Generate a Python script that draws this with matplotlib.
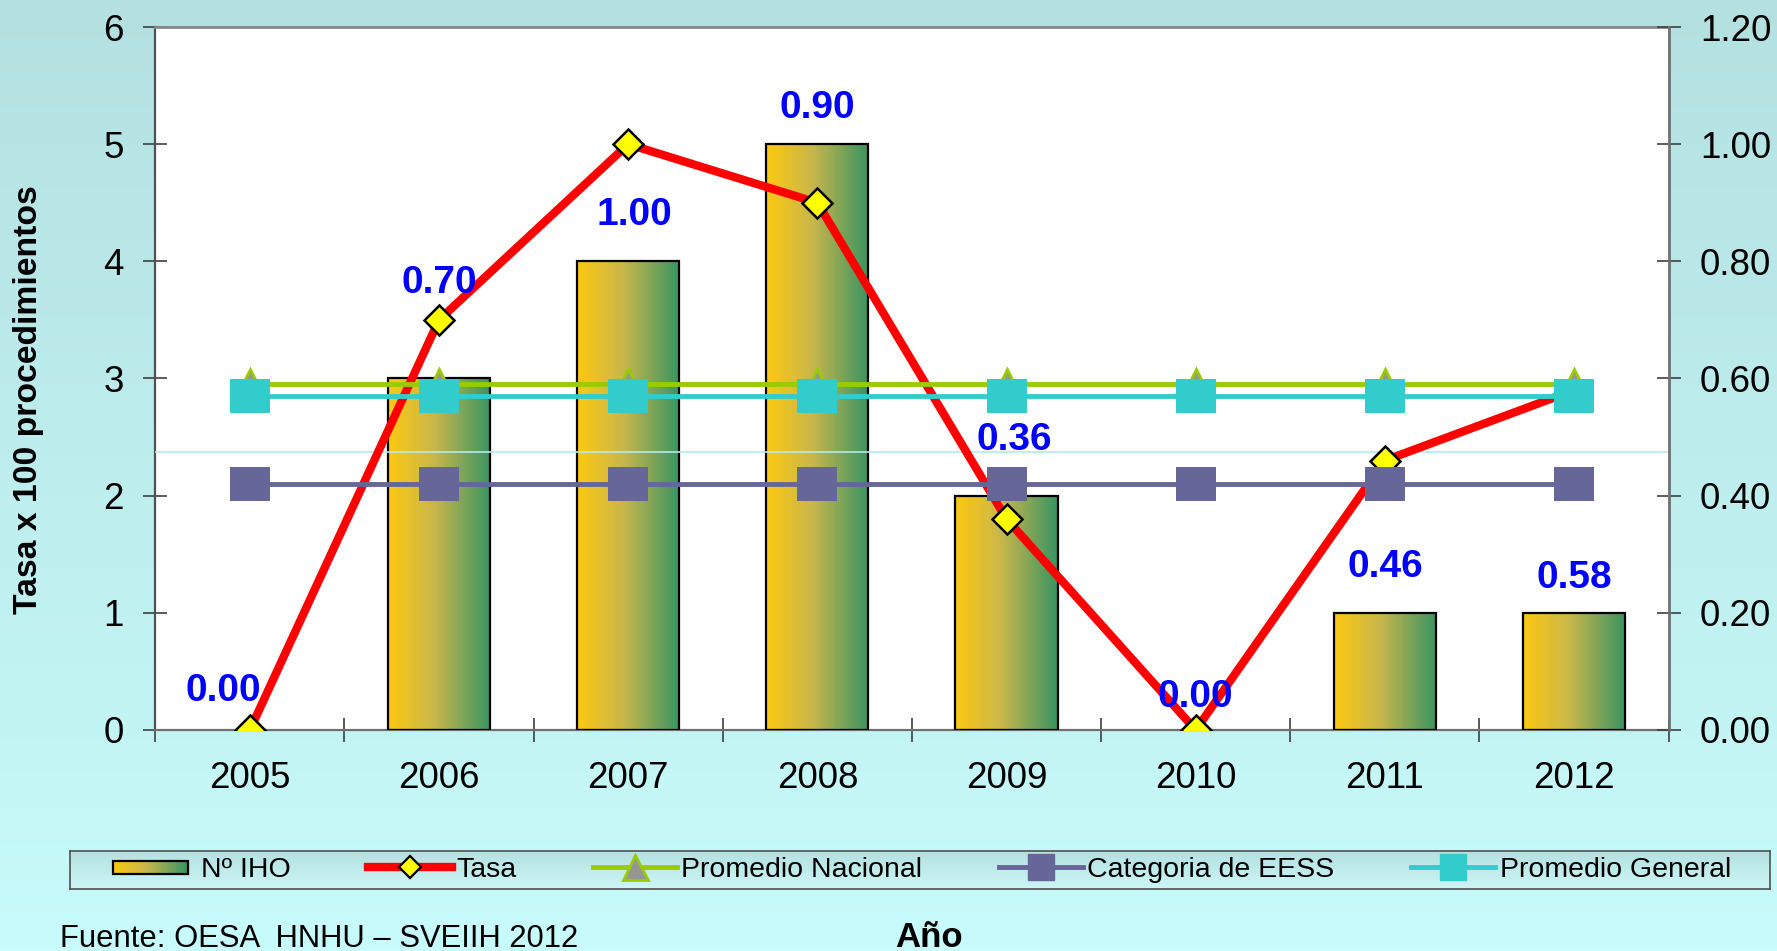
## Import Libraries
import numpy as np
import matplotlib.pyplot as plt
from matplotlib.lines import Line2D
from matplotlib.patches import Rectangle
from matplotlib.colors import LinearSegmentedColormap
from matplotlib.legend_handler import HandlerPatch
from matplotlib.ticker import FormatStrFormatter

plt.rcParams['font.family'] = ['Liberation Sans', 'DejaVu Sans']


## Data
years = ['2005', '2006', '2007', '2008', '2009', '2010', '2011', '2012']
n_iho = [0, 3, 4, 5, 2, 0, 1, 1]
tasa = [0.00, 0.70, 1.00, 0.90, 0.36, 0.00, 0.46, 0.58]
promedio_nacional = [0.59, 0.59, 0.59, 0.59, 0.59, 0.59, 0.59, 0.59]
categoria_eess = [0.42, 0.42, 0.42, 0.42, 0.42, 0.42, 0.42, 0.42]
promedio_general = [0.57, 0.57, 0.57, 0.57, 0.57, 0.57, 0.57, 0.57]
faint_line = 0.475
# label placement for the rate values (right axis units / category offset)
label_y = [0.066, 0.763, 0.879, 1.061, 0.495, 0.056, 0.279, 0.259]
label_dx = [-0.14, 0, 0.03, 0, 0.04, 0, 0, 0]


## Colours
bar_cmap = LinearSegmentedColormap.from_list('bar', [(0, '#fcc812'), (0.45, '#c9b74c'), (1, '#3a9462')])
bg_cmap = LinearSegmentedColormap.from_list('bg', ['#b4e0e0', '#c8fbfb'])
box_cmap = LinearSegmentedColormap.from_list('box', ['#b3e0e0', '#cdf6f6'])
rect_marker = [(-0.59, -0.5), (0.59, -0.5), (0.59, 0.5), (-0.59, 0.5), (-0.59, -0.5)]


## Figure + background
fig = plt.figure(figsize=(17.77, 9.51), dpi=100)
bg = fig.add_axes([0, 0, 1, 1], zorder=-10)
bg.imshow(np.linspace(0, 1, 256).reshape(-1, 1), aspect='auto', cmap=bg_cmap, extent=[0, 1, 0, 1])
bg.axis('off')

ax = fig.add_axes([0.0874, 0.2324, 0.8516, 0.7392])
ax.set_facecolor('white')
x = np.arange(len(years))

# Bars with horizontal yellow->green gradient
bars = ax.bar(x, n_iho, width=0.54, facecolor='none', edgecolor='black', linewidth=1.6, zorder=3)
for b in bars:
    if b.get_height() == 0:
        b.set_linewidth(0)
        continue
    ax.imshow(np.linspace(0, 1, 64).reshape(1, -1), cmap=bar_cmap, aspect='auto', zorder=2,
              extent=[b.get_x(), b.get_x() + b.get_width(), 0, b.get_height()])
ax.set_xlim(-0.5, 7.5)
ax.set_ylim(0, 6)
ax.set_yticks(range(7))
ax.set_xticks(x)
ax.set_xticklabels(years)
ax.set_xticks(np.arange(-0.5, 8, 1), minor=True)
ax.tick_params(axis='x', which='major', length=0, pad=22, labelsize=26.5)
ax.tick_params(axis='x', which='minor', length=17, width=1.2, direction='inout', color='#404040')
ax.tick_params(axis='y', length=17, width=1.2, direction='inout', color='#404040', labelsize=26.5, pad=14)
ax.spines['left'].set_color('#505050')
ax.spines['left'].set_linewidth(1.6)
ax.spines['bottom'].set_color('#707070')
ax.spines['bottom'].set_linewidth(1.6)
ax.spines['top'].set_color('#888888')
ax.spines['top'].set_linewidth(2)
ax.spines['right'].set_visible(False)

# Secondary axis for the rate lines
ax2 = ax.twinx()
ax2.set_ylim(0, 1.2)
ax2.set_yticks(np.arange(0, 1.21, 0.2))
ax2.yaxis.set_major_formatter(FormatStrFormatter('%.2f'))
ax2.tick_params(axis='y', length=17, width=1.2, direction='inout', color='#404040', labelsize=26.5, pad=14)
for s in ['left', 'top', 'bottom']:
    ax2.spines[s].set_visible(False)
ax2.spines['right'].set_color('#707070')
ax2.spines['right'].set_linewidth(2)

ax2.axhline(faint_line, color='#b2ecec', lw=1.2, zorder=1)
ax2.plot(x, tasa, color='#ff0000', lw=6, marker='D', ms=15, mfc='#ffff00', mec='black', mew=1.8, zorder=3)
ax2.plot(x, promedio_nacional, color='#99cc00', lw=3.5, marker='^', ms=21, mfc='#969696', mec='#99cc00', mew=2, zorder=4)
ax2.plot(x, categoria_eess, color='#666699', lw=3.5, marker=rect_marker, ms=29, mfc='#666699', mec='#666699', mew=0, zorder=5)
ax2.plot(x, promedio_general, color='#33cccc', lw=3.5, marker=rect_marker, ms=29, mfc='#33cccc', mec='#33cccc', mew=0, zorder=6)

for i, v in enumerate(tasa):
    ax2.text(x[i] + label_dx[i], label_y[i], f'{v:.2f}', ha='center', va='center', color='#0000ff',
             fontsize=28, fontweight='bold', zorder=10)

fig.text(0.0158, 0.58, 'Tasa x 100 procedimientos', rotation=90, ha='center', va='center',
         fontsize=24.3, fontweight='bold')


## Legend
class GradientHandler(HandlerPatch):
    def create_artists(self, legend, orig_handle, xdescent, ydescent, width, height, fontsize, trans):
        w = width * 0.89
        h = 13 / 1.389
        y0 = -ydescent + (height - h) / 2
        n = 40
        out = []
        for i in range(n):
            out.append(Rectangle((-xdescent + w * i / n, y0), w / n * 1.05, h, facecolor=bar_cmap(i / (n - 1)),
                                 edgecolor='none', transform=trans))
        out.append(Rectangle((-xdescent, y0), w, h, facecolor='none', edgecolor='black', lw=1.6, transform=trans))
        return out

box = fig.add_axes([70 / 1777, 1 - 889 / 951, 1700 / 1777, 38 / 951], zorder=2)
box.imshow(np.linspace(0, 1, 64).reshape(-1, 1), aspect='auto', cmap=box_cmap, extent=[0, 1, 0, 1])
box.set_xticks([])
box.set_yticks([])
for s in box.spines.values():
    s.set_color('#505050')
    s.set_linewidth(1.2)

handles = [
    Rectangle((0, 0), 1, 1),
    Line2D([], [], color='#ff0000', lw=6, marker='D', ms=11, mfc='#ffff00', mec='black', mew=1.6),
    Line2D([], [], color='#99cc00', lw=3.5, marker='^', ms=18, mfc='#969696', mec='#99cc00', mew=2),
    Line2D([], [], color='#666699', lw=3.5, marker='s', ms=19, mfc='#666699', mec='#666699'),
    Line2D([], [], color='#33cccc', lw=3.5, marker='s', ms=19, mfc='#33cccc', mec='#33cccc'),
]
labels = ['Nº IHO', 'Tasa', 'Promedio Nacional', 'Categoria de EESS', 'Promedio General']
leg = fig.legend(handles, labels, loc='center left', bbox_to_anchor=(110 / 1777, 1 - 870 / 951), ncol=5,
                 frameon=False, fontsize=20.5, handlelength=2.95, handletextpad=0.15, columnspacing=2.7,
                 borderpad=0.1, borderaxespad=0, numpoints=1,
                 handler_map={Rectangle: GradientHandler()})
leg.set_zorder(5)

fig.text(60 / 1777, 1 - 947 / 951, 'Fuente: OESA  HNHU – SVEIIH 2012', ha='left', va='baseline', fontsize=22.3)
fig.text(895 / 1777, 1 - 947 / 951, 'Año', ha='left', va='baseline', fontsize=25, fontweight='bold')

fig.savefig('out.png', dpi=100)
